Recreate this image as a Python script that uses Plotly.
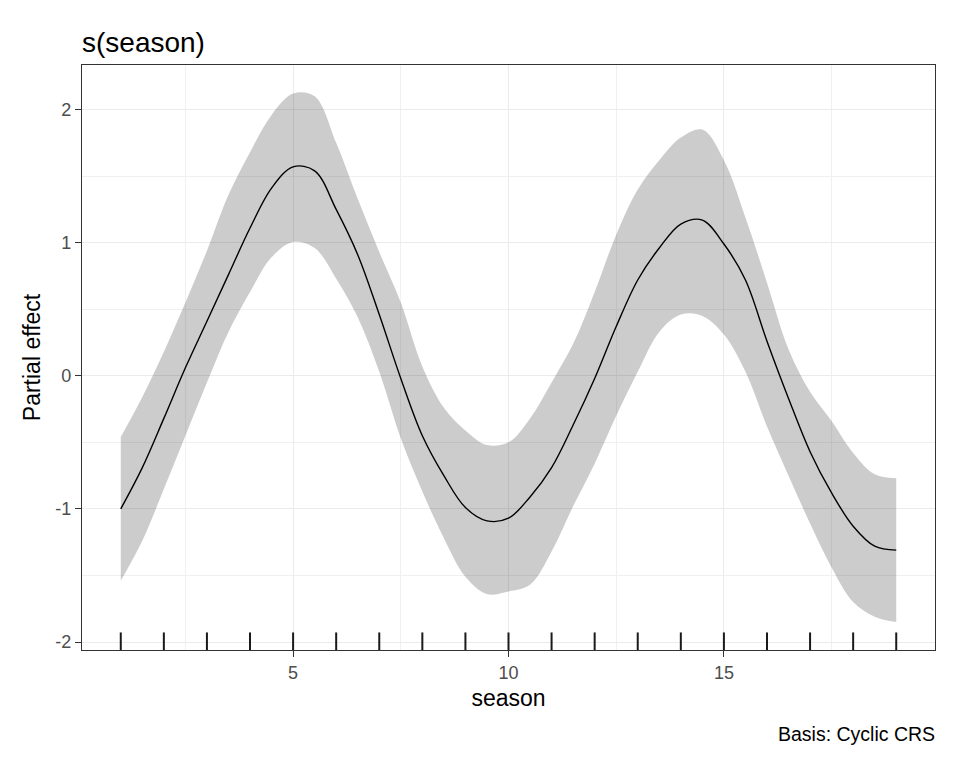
import plotly.graph_objects as go

season = [1.0, 1.5, 2.0, 2.5, 3.0, 3.5, 4.0, 4.5, 5.0, 5.5, 6.0, 6.5, 7.0, 7.5,
          8.0, 8.5, 9.0, 9.5, 10.0, 10.5, 11.0, 11.5, 12.0, 12.5, 13.0, 13.5,
          14.0, 14.5, 15.0, 15.5, 16.0, 16.5, 17.0, 17.5, 18.0, 18.5, 19.0]

estimate = [-1.00, -0.69, -0.32, 0.06, 0.41, 0.76, 1.11, 1.41, 1.57, 1.54, 1.25,
            0.91, 0.46, -0.02, -0.45, -0.75, -0.99, -1.09, -1.07, -0.91, -0.69,
            -0.37, -0.02, 0.37, 0.72, 0.96, 1.14, 1.17, 0.99, 0.72, 0.26, -0.17,
            -0.57, -0.88, -1.13, -1.28, -1.31]

upper = [-0.46, -0.16, 0.18, 0.55, 0.94, 1.36, 1.68, 1.96, 2.12, 2.10, 1.75,
         1.33, 0.93, 0.55, 0.07, -0.24, -0.41, -0.52, -0.50, -0.32, -0.05,
         0.24, 0.63, 1.06, 1.40, 1.62, 1.79, 1.85, 1.62, 1.19, 0.70, 0.20,
         -0.12, -0.34, -0.58, -0.74, -0.77]

lower = [-1.54, -1.24, -0.85, -0.45, -0.05, 0.33, 0.63, 0.89, 1.005, 0.96, 0.73,
         0.44, 0.03, -0.47, -0.87, -1.22, -1.51, -1.64, -1.62, -1.57, -1.32,
         -0.98, -0.66, -0.30, 0.03, 0.33, 0.46, 0.45, 0.31, 0.03, -0.38, -0.75,
         -1.11, -1.44, -1.70, -1.81, -1.85]

rug_seasons = list(range(1, 20))

x_ticks = [5, 10, 15]
y_ticks = [-2, -1, 0, 1, 2]

FONT = "Liberation Sans, Arial, sans-serif"

fig = go.Figure()

fig.add_trace(go.Scatter(
    x=season, y=lower, mode="lines",
    line=dict(width=0, color="rgba(0,0,0,0)", shape="spline", smoothing=1.0),
    hoverinfo="skip", showlegend=False,
))
fig.add_trace(go.Scatter(
    x=season, y=upper, mode="lines", fill="tonexty",
    fillcolor="rgba(0,0,0,0.2)",
    line=dict(width=0, color="rgba(0,0,0,0)", shape="spline", smoothing=1.0),
    hoverinfo="skip", showlegend=False,
))

fig.add_trace(go.Scatter(
    x=season, y=estimate, mode="lines",
    line=dict(color="black", width=1.4, shape="spline", smoothing=1.0),
    showlegend=False,
))

for s in rug_seasons:
    fig.add_shape(type="line", xref="x", yref="paper", x0=s, x1=s, y0=0, y1=0.03,
                  line=dict(color="#1A1A1A", width=2))

axis_common = dict(
    showline=True, mirror=True, linecolor="#333333", linewidth=1.4,
    showgrid=True, gridcolor="#EBEBEB", gridwidth=1.3,
    ticks="outside", ticklen=6, tickcolor="#333333", tickwidth=1.4,
    tickfont=dict(family=FONT, size=18, color="#4D4D4D"),
    zeroline=False,
    minor=dict(showgrid=True, gridcolor="#F0F0F0", gridwidth=1, ticks=""),
)

fig.update_xaxes(range=[0.1, 19.9], tickvals=x_ticks, ticktext=[str(v) for v in x_ticks],
                 title=dict(text="season", standoff=8,
                            font=dict(family=FONT, size=23, color="black")),
                 **axis_common)
fig.update_xaxes(minor=dict(tickvals=[2.5, 7.5, 12.5, 17.5]))
fig.update_yaxes(range=[-2.06, 2.335], tickvals=y_ticks, ticktext=[str(v) for v in y_ticks],
                 title=dict(text="Partial effect", standoff=8,
                            font=dict(family=FONT, size=23, color="black")),
                 **axis_common)
fig.update_yaxes(minor=dict(tickvals=[-1.5, -0.5, 0.5, 1.5]))

fig.add_annotation(text="s(season)", xref="paper", yref="paper", x=0, y=1,
                   xanchor="left", yanchor="bottom", yshift=5, xshift=-2, showarrow=False,
                   font=dict(family=FONT, size=28, color="black"))
fig.add_annotation(text="Basis: Cyclic CRS", xref="paper", yref="paper", x=1, y=0,
                   xanchor="right", yanchor="middle", yshift=-84, xshift=2, showarrow=False,
                   font=dict(family=FONT, size=19.5, color="black"))

fig.update_layout(
    width=960, height=768,
    margin=dict(l=82, r=25, t=65, b=118),
    paper_bgcolor="white", plot_bgcolor="white",
    showlegend=False,
)

fig.write_html("out.html")
